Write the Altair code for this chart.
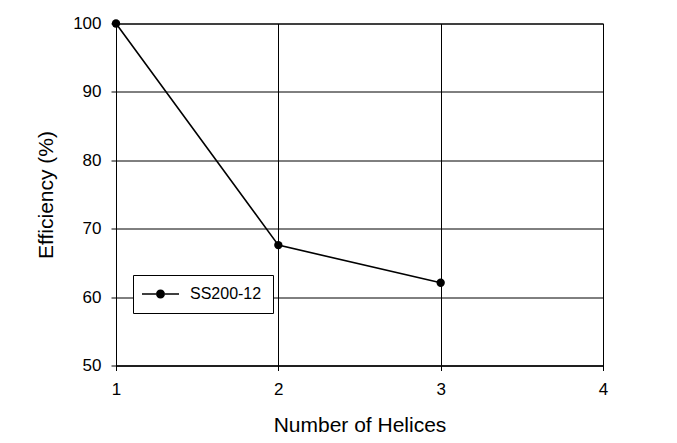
import altair as alt
import pandas as pd

helices = [1, 2, 3]
efficiency = [100, 67.6, 62.1]
series = ["SS200-12", "SS200-12", "SS200-12"]
x_ticks = [1, 2, 3, 4]
y_ticks = [50, 60, 70, 80, 90, 100]

df = pd.DataFrame({"helices": helices, "efficiency": efficiency, "series": series})

FONT = "Liberation Sans"
# legend glyph (line with a dot), unit = 2px, origin at symbol centre
sym = ("M-5,-0.4L2,-0.4L2,0.4L-5,0.4Z "
       "M6.5,-0.4L13.5,-0.4L13.5,0.4L6.5,0.4Z "
       "M2,0A2.25,2.25 0 1,1 6.5,0A2.25,2.25 0 1,1 2,0Z")

chart = alt.Chart(df).mark_line(
    color="black", strokeWidth=1.6,
    point=alt.OverlayMarkDef(filled=True, size=70, color="black", opacity=1)
).encode(
    x=alt.X("helices:Q", scale=alt.Scale(domain=[1, 4], nice=False),
            axis=alt.Axis(title="Number of Helices", values=x_ticks, format="d",
                          labelFlush=False, labelPadding=11,
                          titleX=243.5, titleY=66, titleBaseline="alphabetic")),
    y=alt.Y("efficiency:Q", scale=alt.Scale(domain=[50, 100], nice=False, zero=False),
            axis=alt.Axis(title="Efficiency (%)", values=y_ticks, labelPadding=10,
                          titleX=-70, titleY=171, titleBaseline="middle")),
    color=alt.Color("series:N", scale=alt.Scale(range=["black"]),
                    legend=alt.Legend(title=None, orient="none", legendX=17, legendY=251.5,
                                      symbolType=sym, symbolSize=16,
                                      symbolFillColor="black", symbolStrokeColor="black",
                                      symbolStrokeWidth=0, labelFontSize=16, labelFont=FONT,
                                      labelColor="black", labelOffset=30,
                                      strokeColor="black", padding=11, fillColor="white")),
).properties(
    width=487, height=342,
    background="white",
    autosize=alt.AutoSizeParams(type="none"),
    padding={"left": 108, "top": 15.5, "right": 66, "bottom": 69},
).configure_view(
    stroke="black", strokeWidth=1
).configure_axis(
    grid=True, gridColor="black", gridOpacity=1, gridWidth=1,
    domainColor="black", domainWidth=1, tickColor="black", tickSize=5,
    labelFont=FONT, labelFontSize=17, labelColor="black",
    titleFont=FONT, titleFontSize=21, titleFontWeight="normal", titleColor="black",
)

chart.save("out.html", embed_options={"renderer": "svg", "actions": False})
